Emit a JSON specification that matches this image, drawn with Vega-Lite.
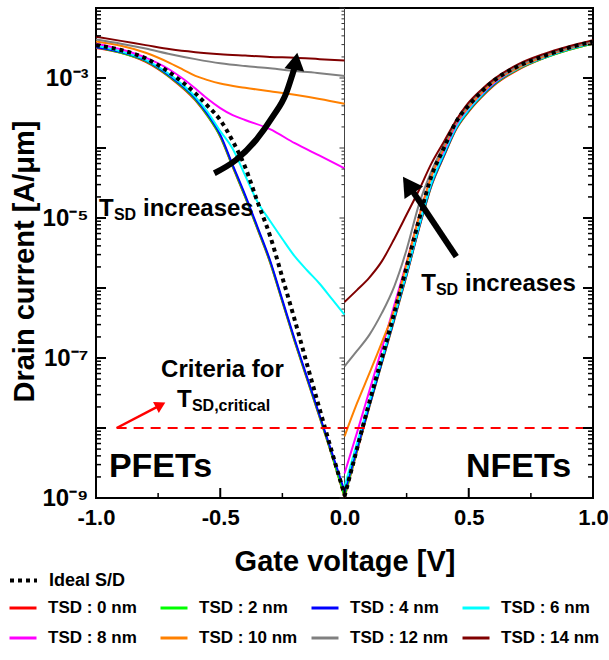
{
"$schema": "https://vega.github.io/schema/vega-lite/v6.json",
"width": 497, "height": 490,
"autosize": {"type": "none"},
"padding": {"left": 96, "top": 8, "right": 16, "bottom": 162},
"config": {
  "view": {"stroke": "black", "strokeWidth": 2},
  "font": "Liberation Sans",
  "axis": {"labelFont": "Liberation Sans", "labelFontWeight": "bold", "titleFont": "Liberation Sans", "titleFontWeight": "bold", "grid": false, "ticks": false, "tickSize": 0, "labelColor": "black", "titleColor": "black", "domain": false, "labelOverlap": false},
  "legend": {"labelFont": "Liberation Sans", "labelFontWeight": "bold", "labelFontSize": 17, "labelColor": "black"}
},
"datasets": {
  "ymaj": [{"i":1e-9},{"i":1e-8},{"i":1e-7},{"i":1e-6},{"i":1e-5},{"i":1e-4},{"i":1e-3},{"i":1e-2}],
  "ymin": [{"i":2e-9},{"i":3e-9},{"i":4e-9},{"i":5e-9},{"i":6e-9},{"i":7e-9},{"i":8e-9},{"i":9e-9},{"i":2e-8},{"i":3e-8},{"i":4e-8},{"i":5e-8},{"i":6e-8},{"i":7e-8},{"i":8e-8},{"i":9e-8},{"i":2e-7},{"i":3e-7},{"i":4e-7},{"i":5e-7},{"i":6e-7},{"i":7e-7},{"i":8e-7},{"i":9e-7},{"i":2e-6},{"i":3e-6},{"i":4e-6},{"i":5e-6},{"i":6e-6},{"i":7e-6},{"i":8e-6},{"i":9e-6},{"i":2e-5},{"i":3e-5},{"i":4e-5},{"i":5e-5},{"i":6e-5},{"i":7e-5},{"i":8e-5},{"i":9e-5},{"i":2e-4},{"i":3e-4},{"i":4e-4},{"i":5e-4},{"i":6e-4},{"i":7e-4},{"i":8e-4},{"i":9e-4},{"i":2e-3},{"i":3e-3},{"i":4e-3},{"i":5e-3},{"i":6e-3},{"i":7e-3},{"i":8e-3},{"i":9e-3}],
  "xmaj": [{"v":-1},{"v":-0.5},{"v":0},{"v":0.5},{"v":1}],
  "xmin": [{"v":-0.75},{"v":-0.25},{"v":0.25},{"v":0.75}],
  "tsd": [
    {"t":0,"b":"p","v":-1,"i":2.69e-3},{"t":0,"b":"p","v":-0.9,"i":2.29e-3},{"t":0,"b":"p","v":-0.8,"i":1.70e-3},{"t":0,"b":"p","v":-0.7,"i":1.00e-3},{"t":0,"b":"p","v":-0.6,"i":4.79e-4},{"t":0,"b":"p","v":-0.55,"i":2.82e-4},{"t":0,"b":"p","v":-0.5,"i":1.45e-4},{"t":0,"b":"p","v":-0.45,"i":5.37e-5},{"t":0,"b":"p","v":-0.4,"i":2.00e-5},{"t":0,"b":"p","v":-0.35,"i":6.92e-6},{"t":0,"b":"p","v":-0.3,"i":2.34e-6},{"t":0,"b":"p","v":-0.25,"i":6.31e-7},{"t":0,"b":"p","v":-0.2,"i":1.70e-7},{"t":0,"b":"p","v":-0.15,"i":4.90e-8},{"t":0,"b":"p","v":-0.1,"i":1.41e-8},{"t":0,"b":"p","v":-0.05,"i":3.98e-9},{"t":0,"b":"p","v":0,"i":1.02e-9},
    {"t":0,"b":"n","v":0,"i":1.02e-9},{"t":0,"b":"n","v":0.05,"i":4.57e-9},{"t":0,"b":"n","v":0.1,"i":2.00e-8},{"t":0,"b":"n","v":0.15,"i":8.32e-8},{"t":0,"b":"n","v":0.2,"i":3.47e-7},{"t":0,"b":"n","v":0.25,"i":1.51e-6},{"t":0,"b":"n","v":0.3,"i":7.08e-6},{"t":0,"b":"n","v":0.35,"i":2.88e-5},{"t":0,"b":"n","v":0.4,"i":7.59e-5},{"t":0,"b":"n","v":0.45,"i":1.86e-4},{"t":0,"b":"n","v":0.5,"i":3.31e-4},{"t":0,"b":"n","v":0.55,"i":5.25e-4},{"t":0,"b":"n","v":0.6,"i":7.76e-4},{"t":0,"b":"n","v":0.7,"i":1.32e-3},{"t":0,"b":"n","v":0.8,"i":1.91e-3},{"t":0,"b":"n","v":0.9,"i":2.51e-3},{"t":0,"b":"n","v":1,"i":3.09e-3},
    {"t":2,"b":"p","v":-1,"i":2.75e-3},{"t":2,"b":"p","v":-0.9,"i":2.29e-3},{"t":2,"b":"p","v":-0.8,"i":1.74e-3},{"t":2,"b":"p","v":-0.7,"i":1.02e-3},{"t":2,"b":"p","v":-0.6,"i":4.90e-4},{"t":2,"b":"p","v":-0.55,"i":2.88e-4},{"t":2,"b":"p","v":-0.5,"i":1.48e-4},{"t":2,"b":"p","v":-0.45,"i":5.50e-5},{"t":2,"b":"p","v":-0.4,"i":2.04e-5},{"t":2,"b":"p","v":-0.35,"i":7.08e-6},{"t":2,"b":"p","v":-0.3,"i":2.40e-6},{"t":2,"b":"p","v":-0.25,"i":6.46e-7},{"t":2,"b":"p","v":-0.2,"i":1.74e-7},{"t":2,"b":"p","v":-0.15,"i":5.01e-8},{"t":2,"b":"p","v":-0.1,"i":1.45e-8},{"t":2,"b":"p","v":-0.05,"i":4.07e-9},{"t":2,"b":"p","v":0,"i":1.05e-9},
    {"t":2,"b":"n","v":0,"i":1.07e-9},{"t":2,"b":"n","v":0.05,"i":4.79e-9},{"t":2,"b":"n","v":0.1,"i":2.04e-8},{"t":2,"b":"n","v":0.15,"i":8.51e-8},{"t":2,"b":"n","v":0.2,"i":3.55e-7},{"t":2,"b":"n","v":0.25,"i":1.55e-6},{"t":2,"b":"n","v":0.3,"i":7.24e-6},{"t":2,"b":"n","v":0.35,"i":2.95e-5},{"t":2,"b":"n","v":0.4,"i":7.76e-5},{"t":2,"b":"n","v":0.45,"i":1.91e-4},{"t":2,"b":"n","v":0.5,"i":3.39e-4},{"t":2,"b":"n","v":0.55,"i":5.37e-4},{"t":2,"b":"n","v":0.6,"i":7.94e-4},{"t":2,"b":"n","v":0.7,"i":1.35e-3},{"t":2,"b":"n","v":0.8,"i":1.91e-3},{"t":2,"b":"n","v":0.9,"i":2.51e-3},{"t":2,"b":"n","v":1,"i":3.09e-3},
    {"t":4,"b":"p","v":-1,"i":2.75e-3},{"t":4,"b":"p","v":-0.9,"i":2.34e-3},{"t":4,"b":"p","v":-0.8,"i":1.78e-3},{"t":4,"b":"p","v":-0.7,"i":1.05e-3},{"t":4,"b":"p","v":-0.6,"i":5.13e-4},{"t":4,"b":"p","v":-0.55,"i":3.02e-4},{"t":4,"b":"p","v":-0.5,"i":1.55e-4},{"t":4,"b":"p","v":-0.45,"i":5.75e-5},{"t":4,"b":"p","v":-0.4,"i":2.14e-5},{"t":4,"b":"p","v":-0.35,"i":7.41e-6},{"t":4,"b":"p","v":-0.3,"i":2.51e-6},{"t":4,"b":"p","v":-0.25,"i":6.76e-7},{"t":4,"b":"p","v":-0.2,"i":1.82e-7},{"t":4,"b":"p","v":-0.15,"i":5.25e-8},{"t":4,"b":"p","v":-0.1,"i":1.51e-8},{"t":4,"b":"p","v":-0.05,"i":4.37e-9},{"t":4,"b":"p","v":0,"i":1.26e-9},
    {"t":4,"b":"n","v":0,"i":1.20e-9},{"t":4,"b":"n","v":0.05,"i":5.01e-9},{"t":4,"b":"n","v":0.1,"i":2.09e-8},{"t":4,"b":"n","v":0.15,"i":8.71e-8},{"t":4,"b":"n","v":0.2,"i":3.63e-7},{"t":4,"b":"n","v":0.25,"i":1.58e-6},{"t":4,"b":"n","v":0.3,"i":7.41e-6},{"t":4,"b":"n","v":0.35,"i":3.02e-5},{"t":4,"b":"n","v":0.4,"i":7.94e-5},{"t":4,"b":"n","v":0.45,"i":1.95e-4},{"t":4,"b":"n","v":0.5,"i":3.47e-4},{"t":4,"b":"n","v":0.55,"i":5.50e-4},{"t":4,"b":"n","v":0.6,"i":8.13e-4},{"t":4,"b":"n","v":0.7,"i":1.38e-3},{"t":4,"b":"n","v":0.8,"i":1.95e-3},{"t":4,"b":"n","v":0.9,"i":2.57e-3},{"t":4,"b":"n","v":1,"i":3.16e-3},
    {"t":6,"b":"p","v":-1,"i":2.88e-3},{"t":6,"b":"p","v":-0.9,"i":2.40e-3},{"t":6,"b":"p","v":-0.8,"i":1.82e-3},{"t":6,"b":"p","v":-0.7,"i":1.10e-3},{"t":6,"b":"p","v":-0.6,"i":5.37e-4},{"t":6,"b":"p","v":-0.55,"i":3.24e-4},{"t":6,"b":"p","v":-0.5,"i":1.74e-4},{"t":6,"b":"p","v":-0.45,"i":9.77e-5},{"t":6,"b":"p","v":-0.4,"i":4.07e-5},{"t":6,"b":"p","v":-0.35,"i":1.70e-5},{"t":6,"b":"p","v":-0.3,"i":9.12e-6},{"t":6,"b":"p","v":-0.25,"i":5.01e-6},{"t":6,"b":"p","v":-0.2,"i":2.82e-6},{"t":6,"b":"p","v":-0.15,"i":1.78e-6},{"t":6,"b":"p","v":-0.1,"i":1.15e-6},{"t":6,"b":"p","v":-0.05,"i":6.92e-7},{"t":6,"b":"p","v":0,"i":4.17e-7},
    {"t":6,"b":"n","v":0,"i":1.45e-9},{"t":6,"b":"n","v":0.05,"i":6.03e-9},{"t":6,"b":"n","v":0.1,"i":2.40e-8},{"t":6,"b":"n","v":0.15,"i":9.55e-8},{"t":6,"b":"n","v":0.2,"i":3.89e-7},{"t":6,"b":"n","v":0.25,"i":1.66e-6},{"t":6,"b":"n","v":0.3,"i":7.76e-6},{"t":6,"b":"n","v":0.35,"i":3.16e-5},{"t":6,"b":"n","v":0.4,"i":8.32e-5},{"t":6,"b":"n","v":0.45,"i":2.00e-4},{"t":6,"b":"n","v":0.5,"i":3.55e-4},{"t":6,"b":"n","v":0.55,"i":5.62e-4},{"t":6,"b":"n","v":0.6,"i":8.32e-4},{"t":6,"b":"n","v":0.7,"i":1.38e-3},{"t":6,"b":"n","v":0.8,"i":1.95e-3},{"t":6,"b":"n","v":0.9,"i":2.57e-3},{"t":6,"b":"n","v":1,"i":3.16e-3},
    {"t":8,"b":"p","v":-1,"i":3.09e-3},{"t":8,"b":"p","v":-0.9,"i":2.57e-3},{"t":8,"b":"p","v":-0.8,"i":1.95e-3},{"t":8,"b":"p","v":-0.7,"i":1.29e-3},{"t":8,"b":"p","v":-0.65,"i":9.77e-4},{"t":8,"b":"p","v":-0.6,"i":7.08e-4},{"t":8,"b":"p","v":-0.55,"i":5.01e-4},{"t":8,"b":"p","v":-0.5,"i":3.72e-4},{"t":8,"b":"p","v":-0.45,"i":2.95e-4},{"t":8,"b":"p","v":-0.4,"i":2.51e-4},{"t":8,"b":"p","v":-0.3,"i":1.86e-4},{"t":8,"b":"p","v":-0.2,"i":1.17e-4},{"t":8,"b":"p","v":-0.1,"i":7.76e-5},{"t":8,"b":"p","v":0,"i":5.13e-5},
    {"t":8,"b":"n","v":0,"i":2.24e-9},{"t":8,"b":"n","v":0.05,"i":8.51e-9},{"t":8,"b":"n","v":0.1,"i":3.39e-8},{"t":8,"b":"n","v":0.15,"i":1.35e-7},{"t":8,"b":"n","v":0.2,"i":5.62e-7},{"t":8,"b":"n","v":0.25,"i":2.34e-6},{"t":8,"b":"n","v":0.3,"i":1.05e-5},{"t":8,"b":"n","v":0.35,"i":3.98e-5},{"t":8,"b":"n","v":0.4,"i":9.33e-5},{"t":8,"b":"n","v":0.45,"i":2.19e-4},{"t":8,"b":"n","v":0.5,"i":3.80e-4},{"t":8,"b":"n","v":0.55,"i":5.89e-4},{"t":8,"b":"n","v":0.6,"i":8.51e-4},{"t":8,"b":"n","v":0.7,"i":1.41e-3},{"t":8,"b":"n","v":0.8,"i":2.00e-3},{"t":8,"b":"n","v":0.9,"i":2.63e-3},{"t":8,"b":"n","v":1,"i":3.24e-3},
    {"t":10,"b":"p","v":-1,"i":3.31e-3},{"t":10,"b":"p","v":-0.9,"i":2.88e-3},{"t":10,"b":"p","v":-0.8,"i":2.29e-3},{"t":10,"b":"p","v":-0.7,"i":1.62e-3},{"t":10,"b":"p","v":-0.65,"i":1.32e-3},{"t":10,"b":"p","v":-0.6,"i":1.07e-3},{"t":10,"b":"p","v":-0.55,"i":9.33e-4},{"t":10,"b":"p","v":-0.5,"i":8.32e-4},{"t":10,"b":"p","v":-0.4,"i":7.24e-4},{"t":10,"b":"p","v":-0.3,"i":6.46e-4},{"t":10,"b":"p","v":-0.2,"i":5.75e-4},{"t":10,"b":"p","v":-0.1,"i":5.01e-4},{"t":10,"b":"p","v":0,"i":4.27e-4},
    {"t":10,"b":"n","v":0,"i":7.59e-9},{"t":10,"b":"n","v":0.05,"i":2.24e-8},{"t":10,"b":"n","v":0.1,"i":6.03e-8},{"t":10,"b":"n","v":0.15,"i":1.66e-7},{"t":10,"b":"n","v":0.2,"i":4.90e-7},{"t":10,"b":"n","v":0.25,"i":2.24e-6},{"t":10,"b":"n","v":0.3,"i":1.05e-5},{"t":10,"b":"n","v":0.35,"i":3.98e-5},{"t":10,"b":"n","v":0.4,"i":1.00e-4},{"t":10,"b":"n","v":0.45,"i":2.29e-4},{"t":10,"b":"n","v":0.5,"i":3.89e-4},{"t":10,"b":"n","v":0.55,"i":6.03e-4},{"t":10,"b":"n","v":0.6,"i":8.71e-4},{"t":10,"b":"n","v":0.7,"i":1.41e-3},{"t":10,"b":"n","v":0.8,"i":2.00e-3},{"t":10,"b":"n","v":0.9,"i":2.63e-3},{"t":10,"b":"n","v":1,"i":3.24e-3},
    {"t":12,"b":"p","v":-1,"i":3.55e-3},{"t":12,"b":"p","v":-0.9,"i":3.09e-3},{"t":12,"b":"p","v":-0.8,"i":2.63e-3},{"t":12,"b":"p","v":-0.7,"i":2.19e-3},{"t":12,"b":"p","v":-0.6,"i":1.86e-3},{"t":12,"b":"p","v":-0.5,"i":1.62e-3},{"t":12,"b":"p","v":-0.4,"i":1.48e-3},{"t":12,"b":"p","v":-0.3,"i":1.38e-3},{"t":12,"b":"p","v":-0.2,"i":1.26e-3},{"t":12,"b":"p","v":-0.1,"i":1.17e-3},{"t":12,"b":"p","v":0,"i":1.07e-3},
    {"t":12,"b":"n","v":0,"i":7.59e-8},{"t":12,"b":"n","v":0.05,"i":1.26e-7},{"t":12,"b":"n","v":0.1,"i":2.14e-7},{"t":12,"b":"n","v":0.15,"i":4.37e-7},{"t":12,"b":"n","v":0.2,"i":1.05e-6},{"t":12,"b":"n","v":0.25,"i":3.55e-6},{"t":12,"b":"n","v":0.3,"i":1.58e-5},{"t":12,"b":"n","v":0.35,"i":4.68e-5},{"t":12,"b":"n","v":0.4,"i":1.10e-4},{"t":12,"b":"n","v":0.45,"i":2.40e-4},{"t":12,"b":"n","v":0.5,"i":4.17e-4},{"t":12,"b":"n","v":0.55,"i":6.46e-4},{"t":12,"b":"n","v":0.6,"i":9.12e-4},{"t":12,"b":"n","v":0.7,"i":1.48e-3},{"t":12,"b":"n","v":0.8,"i":2.09e-3},{"t":12,"b":"n","v":0.9,"i":2.69e-3},{"t":12,"b":"n","v":1,"i":3.31e-3},
    {"t":14,"b":"p","v":-1,"i":3.89e-3},{"t":14,"b":"p","v":-0.9,"i":3.39e-3},{"t":14,"b":"p","v":-0.8,"i":2.95e-3},{"t":14,"b":"p","v":-0.7,"i":2.57e-3},{"t":14,"b":"p","v":-0.6,"i":2.34e-3},{"t":14,"b":"p","v":-0.5,"i":2.19e-3},{"t":14,"b":"p","v":-0.4,"i":2.09e-3},{"t":14,"b":"p","v":-0.3,"i":2.00e-3},{"t":14,"b":"p","v":-0.2,"i":1.95e-3},{"t":14,"b":"p","v":-0.1,"i":1.86e-3},{"t":14,"b":"p","v":0,"i":1.78e-3},
    {"t":14,"b":"n","v":0,"i":6.31e-7},{"t":14,"b":"n","v":0.05,"i":9.33e-7},{"t":14,"b":"n","v":0.1,"i":1.41e-6},{"t":14,"b":"n","v":0.15,"i":2.40e-6},{"t":14,"b":"n","v":0.2,"i":5.01e-6},{"t":14,"b":"n","v":0.25,"i":1.12e-5},{"t":14,"b":"n","v":0.3,"i":2.51e-5},{"t":14,"b":"n","v":0.35,"i":6.03e-5},{"t":14,"b":"n","v":0.4,"i":1.23e-4},{"t":14,"b":"n","v":0.45,"i":2.51e-4},{"t":14,"b":"n","v":0.5,"i":4.47e-4},{"t":14,"b":"n","v":0.55,"i":6.76e-4},{"t":14,"b":"n","v":0.6,"i":9.55e-4},{"t":14,"b":"n","v":0.7,"i":1.58e-3},{"t":14,"b":"n","v":0.8,"i":2.19e-3},{"t":14,"b":"n","v":0.9,"i":2.82e-3},{"t":14,"b":"n","v":1,"i":3.47e-3}
  ],
  "ideal": [
    {"s":"Ideal S/D","b":"p","v":-1,"i":2.95e-3},{"s":"Ideal S/D","b":"p","v":-0.9,"i":2.51e-3},{"s":"Ideal S/D","b":"p","v":-0.8,"i":1.91e-3},{"s":"Ideal S/D","b":"p","v":-0.7,"i":1.17e-3},{"s":"Ideal S/D","b":"p","v":-0.6,"i":6.03e-4},{"s":"Ideal S/D","b":"p","v":-0.55,"i":3.98e-4},{"s":"Ideal S/D","b":"p","v":-0.5,"i":2.51e-4},{"s":"Ideal S/D","b":"p","v":-0.45,"i":1.26e-4},{"s":"Ideal S/D","b":"p","v":-0.4,"i":5.37e-5},{"s":"Ideal S/D","b":"p","v":-0.35,"i":1.70e-5},{"s":"Ideal S/D","b":"p","v":-0.3,"i":5.62e-6},{"s":"Ideal S/D","b":"p","v":-0.25,"i":1.41e-6},{"s":"Ideal S/D","b":"p","v":-0.2,"i":3.47e-7},{"s":"Ideal S/D","b":"p","v":-0.15,"i":7.94e-8},{"s":"Ideal S/D","b":"p","v":-0.1,"i":1.86e-8},{"s":"Ideal S/D","b":"p","v":-0.05,"i":4.47e-9},{"s":"Ideal S/D","b":"p","v":0,"i":1.12e-9},
    {"s":"Ideal S/D","b":"n","v":0,"i":1.05e-9},{"s":"Ideal S/D","b":"n","v":0.05,"i":5.01e-9},{"s":"Ideal S/D","b":"n","v":0.1,"i":2.34e-8},{"s":"Ideal S/D","b":"n","v":0.15,"i":1.00e-7},{"s":"Ideal S/D","b":"n","v":0.2,"i":4.37e-7},{"s":"Ideal S/D","b":"n","v":0.25,"i":2.00e-6},{"s":"Ideal S/D","b":"n","v":0.3,"i":9.55e-6},{"s":"Ideal S/D","b":"n","v":0.35,"i":3.98e-5},{"s":"Ideal S/D","b":"n","v":0.4,"i":1.00e-4},{"s":"Ideal S/D","b":"n","v":0.45,"i":2.40e-4},{"s":"Ideal S/D","b":"n","v":0.5,"i":4.07e-4},{"s":"Ideal S/D","b":"n","v":0.55,"i":6.31e-4},{"s":"Ideal S/D","b":"n","v":0.6,"i":9.12e-4},{"s":"Ideal S/D","b":"n","v":0.7,"i":1.48e-3},{"s":"Ideal S/D","b":"n","v":0.8,"i":2.04e-3},{"s":"Ideal S/D","b":"n","v":0.9,"i":2.69e-3},{"s":"Ideal S/D","b":"n","v":1,"i":3.31e-3}
  ],
  "ann": [
    {"id":"c","k":1,"v":-0.524,"i":4.36e-5},{"id":"c","k":2,"v":-0.437,"i":6.74e-5},{"id":"c","k":3,"v":-0.356,"i":1.30e-4},{"id":"c","k":4,"v":-0.289,"i":2.80e-4},{"id":"c","k":5,"v":-0.235,"i":6.04e-4},{"id":"c","k":6,"v":-0.208,"i":1.17e-3},{"id":"c","k":7,"v":-0.2,"i":1.44e-3},
    {"id":"n","k":1,"v":0.268,"i":2.6e-5},{"id":"n","k":2,"v":0.45,"i":2.80e-6},
    {"id":"r","k":1,"v":-0.917,"i":1.0e-8},{"id":"r","k":2,"v":-0.75,"i":2.04e-8}
  ],
  "heads": [
    {"id":"c","v":-0.196,"i":1.73e-3},
    {"id":"n","v":0.2571,"i":2.99e-5},
    {"id":"r","v":-0.74,"i":2.13e-8}
  ],
  "words": [
    {"g":"main","v":-0.988,"i":1.07e-5,"t":"T"},
    {"g":"main","v":-0.811,"i":1.07e-5,"t":"increases"},
    {"g":"main","v":0.309,"i":9.06e-7,"t":"T"},
    {"g":"main","v":0.485,"i":9.06e-7,"t":"increases"},
    {"g":"main","v":-0.738,"i":5.41e-8,"t":"Criteria for"},
    {"g":"main","v":-0.674,"i":2.02e-8,"t":"T"},
    {"g":"sub","v":-0.928,"i":9.36e-6,"t":"SD"},
    {"g":"sub","v":0.368,"i":7.94e-7,"t":"SD"},
    {"g":"sub","v":-0.614,"i":1.75e-8,"t":"SD,critical"},
    {"g":"fet","v":-0.948,"i":2.02e-9,"t":"PFETs"},
    {"g":"fet","v":0.489,"i":2.02e-9,"t":"NFETs"}
  ]
},
"layer": [
  {
    "data": {"values": [{"v": 0}]},
    "mark": {"type": "rule", "color": "#444444", "strokeWidth": 1},
    "encoding": {"x": {"field": "v", "type": "quantitative", "scale": {"domain": [-1, 1], "nice": false}, "axis": null}}
  },
  {
    "data": {"name": "tsd"},
    "mark": {"type": "line", "strokeWidth": 2, "interpolate": "monotone", "clip": true},
    "encoding": {
      "x": {"field": "v", "type": "quantitative", "scale": {"domain": [-1, 1], "nice": false},
        "axis": {"orient": "bottom", "values": [-1, -0.5, 0, 0.5, 1],
          "labelExpr": "datum.value == -1 ? '-1.0' : datum.value == -0.5 ? '-0.5' : datum.value == 0 ? '0.0' : datum.value == 0.5 ? '0.5' : '1.0'",
          "labelFlush": false, "labelFontSize": 22, "labelPadding": 9,
          "title": "Gate voltage [V]", "titleFontSize": 29, "titleBaseline": "alphabetic", "titleY": 72}},
      "y": {"field": "i", "type": "quantitative", "scale": {"type": "log", "domain": [1e-9, 1e-2]},
        "axis": {"orient": "left",
          "values": [1e-9,1e-8,1e-7,1e-6,1e-5,1e-4,1e-3,1e-2],
          "labelExpr": "(datum.value > 9e-10 && datum.value < 1.1e-9) ? '10⁻⁹' : (datum.value > 9e-8 && datum.value < 1.1e-7) ? '10⁻⁷' : (datum.value > 9e-6 && datum.value < 1.1e-5) ? '10⁻⁵' : (datum.value > 9e-4 && datum.value < 1.1e-3) ? '10⁻³' : ''",
          "labelFontSize": 24, "labelPadding": 8,
          "title": "Drain current [A/μm]", "titleFontSize": 29, "titleBaseline": "alphabetic", "titleX": -63, "titleY": 253}},
      "color": {"field": "t", "type": "nominal",
        "scale": {"domain": [0, 2, 4, 6, 8, 10, 12, 14], "range": ["#ff0000", "#00ff00", "#0000ff", "#00ffff", "#ff00ff", "#ff8000", "#808080", "#800000"]},
        "legend": {"orient": "none", "legendX": -88, "legendY": 585, "columns": 4, "title": null, "direction": "horizontal", "gridAlign": "all",
          "symbolType": "stroke", "symbolSize": 729, "symbolStrokeWidth": 3,
          "labelExpr": "'TSD : ' + datum.label + ' nm'", "labelOffset": 10, "columnPadding": 7, "rowPadding": 7}},
      "detail": {"field": "b"}
    }
  },
  {
    "data": {"name": "ideal"},
    "mark": {"type": "line", "color": "black", "strokeWidth": 4, "interpolate": "monotone", "clip": true},
    "encoding": {
      "x": {"field": "v", "type": "quantitative", "scale": {"domain": [-1, 1], "nice": false}, "axis": null},
      "y": {"field": "i", "type": "quantitative", "scale": {"type": "log", "domain": [1e-9, 1e-2]}, "axis": null},
      "strokeDash": {"field": "s", "type": "nominal", "scale": {"domain": ["Ideal S/D"], "range": [[4, 4]]},
        "legend": {"orient": "none", "legendX": -88, "legendY": 557, "title": null, "symbolType": "stroke", "symbolSize": 729, "symbolStrokeWidth": 4, "symbolStrokeColor": "black", "labelOffset": 10, "labelFontSize": 18}},
      "detail": {"field": "b"}
    }
  },
  {
    "data": {"values": [{"v": -0.917, "v2": 1, "i": 1e-8}]},
    "mark": {"type": "rule", "color": "#ff0000", "strokeWidth": 2, "strokeDash": [10, 7]},
    "encoding": {
      "x": {"field": "v", "type": "quantitative", "scale": {"domain": [-1, 1], "nice": false}, "axis": null},
      "x2": {"field": "v2"},
      "y": {"field": "i", "type": "quantitative", "scale": {"type": "log", "domain": [1e-9, 1e-2]}, "axis": null}
    }
  },
  {
    "data": {"name": "ymaj"},
    "mark": {"type": "rule", "color": "black", "strokeWidth": 2},
    "encoding": {
      "x": {"datum": -1, "type": "quantitative", "scale": {"domain": [-1, 1], "nice": false}, "axis": null},
      "x2": {"datum": -0.9598},
      "y": {"field": "i", "type": "quantitative", "scale": {"type": "log", "domain": [1e-9, 1e-2]}, "axis": null}
    }
  },
  {
    "data": {"name": "ymin"},
    "mark": {"type": "rule", "color": "black", "strokeWidth": 1.5},
    "encoding": {
      "x": {"datum": -1, "type": "quantitative", "scale": {"domain": [-1, 1], "nice": false}, "axis": null},
      "x2": {"datum": -0.9799},
      "y": {"field": "i", "type": "quantitative", "scale": {"type": "log", "domain": [1e-9, 1e-2]}, "axis": null}
    }
  },
  {
    "data": {"name": "ymaj"},
    "mark": {"type": "rule", "color": "black", "strokeWidth": 2},
    "encoding": {
      "x": {"datum": 0.9598, "type": "quantitative", "scale": {"domain": [-1, 1], "nice": false}, "axis": null},
      "x2": {"datum": 1},
      "y": {"field": "i", "type": "quantitative", "scale": {"type": "log", "domain": [1e-9, 1e-2]}, "axis": null}
    }
  },
  {
    "data": {"name": "ymin"},
    "mark": {"type": "rule", "color": "black", "strokeWidth": 1.5},
    "encoding": {
      "x": {"datum": 0.9799, "type": "quantitative", "scale": {"domain": [-1, 1], "nice": false}, "axis": null},
      "x2": {"datum": 1},
      "y": {"field": "i", "type": "quantitative", "scale": {"type": "log", "domain": [1e-9, 1e-2]}, "axis": null}
    }
  },
  {
    "data": {"name": "ymaj"},
    "mark": {"type": "rule", "color": "#333333", "strokeWidth": 1},
    "encoding": {
      "x": {"datum": -0.0201, "type": "quantitative", "scale": {"domain": [-1, 1], "nice": false}, "axis": null},
      "x2": {"datum": 0},
      "y": {"field": "i", "type": "quantitative", "scale": {"type": "log", "domain": [1e-9, 1e-2]}, "axis": null}
    }
  },
  {
    "data": {"name": "ymin"},
    "mark": {"type": "rule", "color": "#333333", "strokeWidth": 1},
    "encoding": {
      "x": {"datum": -0.0121, "type": "quantitative", "scale": {"domain": [-1, 1], "nice": false}, "axis": null},
      "x2": {"datum": 0},
      "y": {"field": "i", "type": "quantitative", "scale": {"type": "log", "domain": [1e-9, 1e-2]}, "axis": null}
    }
  },
  {
    "data": {"name": "xmaj"},
    "mark": {"type": "rule", "color": "black", "strokeWidth": 2},
    "encoding": {
      "x": {"field": "v", "type": "quantitative", "scale": {"domain": [-1, 1], "nice": false}, "axis": null},
      "y": {"datum": 1e-9, "type": "quantitative", "scale": {"type": "log", "domain": [1e-9, 1e-2]}, "axis": null},
      "y2": {"datum": 1.39e-9}
    }
  },
  {
    "data": {"name": "xmin"},
    "mark": {"type": "rule", "color": "black", "strokeWidth": 1.5},
    "encoding": {
      "x": {"field": "v", "type": "quantitative", "scale": {"domain": [-1, 1], "nice": false}, "axis": null},
      "y": {"datum": 1e-9, "type": "quantitative", "scale": {"type": "log", "domain": [1e-9, 1e-2]}, "axis": null},
      "y2": {"datum": 1.179e-9}
    }
  },
  {
    "data": {"name": "ann"},
    "transform": [{"filter": "datum.id != 'r'"}],
    "mark": {"type": "line", "color": "black", "strokeWidth": 6, "interpolate": "monotone", "strokeCap": "butt"},
    "encoding": {
      "x": {"field": "v", "type": "quantitative", "scale": {"domain": [-1, 1], "nice": false}, "axis": null},
      "y": {"field": "i", "type": "quantitative", "scale": {"type": "log", "domain": [1e-9, 1e-2]}, "axis": null},
      "detail": {"field": "id"},
      "order": {"field": "k"}
    }
  },
  {
    "data": {"name": "ann"},
    "transform": [{"filter": "datum.id == 'r'"}],
    "mark": {"type": "line", "color": "#ff0000", "strokeWidth": 2.5, "strokeCap": "butt"},
    "encoding": {
      "x": {"field": "v", "type": "quantitative", "scale": {"domain": [-1, 1], "nice": false}, "axis": null},
      "y": {"field": "i", "type": "quantitative", "scale": {"type": "log", "domain": [1e-9, 1e-2]}, "axis": null},
      "order": {"field": "k"}
    }
  },
  {
    "data": {"name": "heads"},
    "transform": [{"filter": "datum.id == 'c'"}],
    "mark": {"type": "point", "shape": "triangle-up", "filled": true, "size": 400, "angle": 10, "color": "black", "opacity": 1},
    "encoding": {
      "x": {"field": "v", "type": "quantitative", "scale": {"domain": [-1, 1], "nice": false}, "axis": null},
      "y": {"field": "i", "type": "quantitative", "scale": {"type": "log", "domain": [1e-9, 1e-2]}, "axis": null}
    }
  },
  {
    "data": {"name": "heads"},
    "transform": [{"filter": "datum.id == 'n'"}],
    "mark": {"type": "point", "shape": "triangle-up", "filled": true, "size": 500, "angle": 326, "color": "black", "opacity": 1},
    "encoding": {
      "x": {"field": "v", "type": "quantitative", "scale": {"domain": [-1, 1], "nice": false}, "axis": null},
      "y": {"field": "i", "type": "quantitative", "scale": {"type": "log", "domain": [1e-9, 1e-2]}, "axis": null}
    }
  },
  {
    "data": {"name": "heads"},
    "transform": [{"filter": "datum.id == 'r'"}],
    "mark": {"type": "point", "shape": "triangle-up", "filled": true, "size": 150, "angle": 62, "color": "#ff0000", "opacity": 1},
    "encoding": {
      "x": {"field": "v", "type": "quantitative", "scale": {"domain": [-1, 1], "nice": false}, "axis": null},
      "y": {"field": "i", "type": "quantitative", "scale": {"type": "log", "domain": [1e-9, 1e-2]}, "axis": null}
    }
  },
  {
    "data": {"name": "words"},
    "transform": [{"filter": "datum.g == 'main'"}],
    "mark": {"type": "text", "font": "Liberation Sans", "fontWeight": "bold", "fontSize": 24, "align": "left", "baseline": "alphabetic", "color": "black"},
    "encoding": {
      "x": {"field": "v", "type": "quantitative", "scale": {"domain": [-1, 1], "nice": false}, "axis": null},
      "y": {"field": "i", "type": "quantitative", "scale": {"type": "log", "domain": [1e-9, 1e-2]}, "axis": null},
      "text": {"field": "t"}
    }
  },
  {
    "data": {"name": "words"},
    "transform": [{"filter": "datum.g == 'sub'"}],
    "mark": {"type": "text", "font": "Liberation Sans", "fontWeight": "bold", "fontSize": 16, "align": "left", "baseline": "alphabetic", "color": "black"},
    "encoding": {
      "x": {"field": "v", "type": "quantitative", "scale": {"domain": [-1, 1], "nice": false}, "axis": null},
      "y": {"field": "i", "type": "quantitative", "scale": {"type": "log", "domain": [1e-9, 1e-2]}, "axis": null},
      "text": {"field": "t"}
    }
  },
  {
    "data": {"name": "words"},
    "transform": [{"filter": "datum.g == 'fet'"}],
    "mark": {"type": "text", "font": "Liberation Sans", "fontWeight": "bold", "fontSize": 34, "align": "left", "baseline": "alphabetic", "color": "black"},
    "encoding": {
      "x": {"field": "v", "type": "quantitative", "scale": {"domain": [-1, 1], "nice": false}, "axis": null},
      "y": {"field": "i", "type": "quantitative", "scale": {"type": "log", "domain": [1e-9, 1e-2]}, "axis": null},
      "text": {"field": "t"}
    }
  }
],
"resolve": {"axis": {"x": "independent", "y": "independent"}}
}
